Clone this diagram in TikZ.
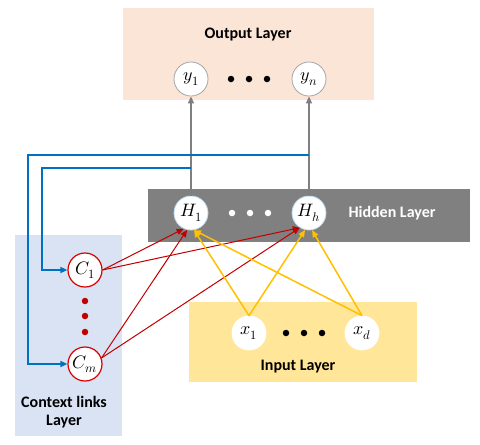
\documentclass[tikz,border=0pt]{standalone}
\usepackage{fontspec}
\setmainfont{Carlito}
\usepackage{unicode-math}
\usetikzlibrary{arrows.meta}
\definecolor{outbg}{HTML}{FBE5D6}
\definecolor{hidbg}{HTML}{808080}
\definecolor{inbg}{HTML}{FFE699}
\definecolor{ctxbg}{HTML}{DAE3F3}
\definecolor{redc}{HTML}{C00000}
\definecolor{yelc}{HTML}{FFC000}
\definecolor{bluec}{HTML}{0070C0}
\definecolor{grayc}{HTML}{7F7F7F}
\tikzset{
  neuron/.style={circle, fill=white, minimum size=34pt, inner sep=0pt, line width=0.8pt, font=\fontsize{18}{20}\selectfont},
  layerlabel/.style={font=\bfseries\fontsize{16}{19}\selectfont},
  tipa/.style={-{Triangle[length=7pt,width=6pt]}},
  redarrow/.style={tipa, draw=redc, line width=1pt},
  yelarrow/.style={tipa, draw=yelc, line width=1.5pt},
  bluearrow/.style={tipa, draw=bluec, line width=1.6pt},
  grayarrow/.style={tipa, draw=grayc, line width=1.3pt},
  bigdot/.style={circle, inner sep=0pt, minimum size=6.5pt},
}
\begin{document}
\begin{tikzpicture}[x=1pt,y=-1pt]
\useasboundingbox (0,0) rectangle (480,445);
% layer boxes
\fill[outbg] (123,8) rectangle (374,100);
\fill[hidbg] (148,189) rectangle (470,242);
\fill[inbg] (189,302) rectangle (417,382);
\fill[ctxbg] (15,235) rectangle (122,436);
% labels
\node[layerlabel] (outlbl) at (248,35) {Output Layer};
\node[layerlabel, text=white] (hidlbl) at (392,213) {Hidden Layer};
\node[layerlabel] (inlbl) at (298,367) {Input Layer};
\node[layerlabel, align=center] (ctxlbl) at (64,412) {Context links\\[-1pt]Layer};
% neurons
\node[neuron, draw=grayc!70] (y1) at (191,79) {$y_1$};
\node[neuron, draw=grayc!70] (yn) at (309,79) {$y_n$};
\node[neuron, draw=bluec!25] (H1) at (191,213) {$H_1$};
\node[neuron, draw=bluec!25] (Hh) at (309,213) {$H_h$};
\node[neuron, draw=white] (x1) at (249,333) {$x_1$};
\node[neuron, draw=white] (xd) at (362,333) {$x_d$};
\node[neuron, draw=red!85!black, line width=1.2pt] (C1) at (85,270) {$C_1$};
\node[neuron, draw=red!85!black, line width=1.2pt] (Cm) at (85,364) {$C_m$};
% dots
\foreach \i/\x in {1/231,2/249,3/267} {
  \node[bigdot, fill=black] (od\i) at (\x,79) {};
  \node[bigdot, fill=white] (hd\i) at (\x+1,213) {};
}
\foreach \i/\x in {1/286,2/304,3/322}
  \node[bigdot, fill=black] (id\i) at (\x,333) {};
\foreach \i/\y in {1/301,2/316,3/332}
  \node[bigdot, fill=redc] (cd\i) at (85,\y) {};
% hidden to output
\draw[grayarrow] (H1.north) -- (y1.south);
\draw[grayarrow] (Hh.north) -- (yn.south);
% context feedback
\coordinate (b1) at (191,168);
\coordinate (b2) at (309,155);
\draw[bluearrow] (b1) -- ++(-149,0) |- (C1.west);
\draw[bluearrow] (b2) -- ++(-281,0) |- (Cm.west);
% context to hidden
\draw[redarrow] (C1.east) -- (H1.-115);
\draw[redarrow] (C1.east) -- (Hh.-122);
\draw[redarrow] (Cm.20) -- (H1.-103);
\draw[redarrow] (Cm.20) -- (Hh.-122);
% input to hidden
\draw[yelarrow] (x1.north) -- (H1.-80);
\draw[yelarrow] (xd.north) -- (H1.-80);
\draw[yelarrow] (x1.north) -- (Hh.-103);
\draw[yelarrow] (xd.north) -- (Hh.-80);
\end{tikzpicture}
\end{document}
